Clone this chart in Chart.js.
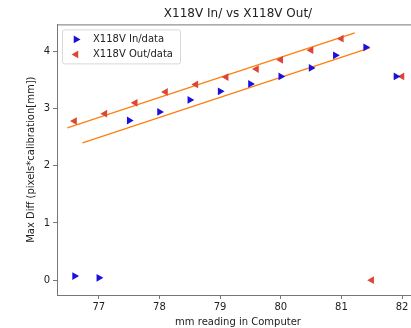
<!DOCTYPE html>
<html>
<head>
<meta charset="utf-8">
<script src="https://cdn.jsdelivr.net/npm/chart.js@4/dist/chart.umd.min.js"></script>
<style>
  html, body { margin: 0; padding: 0; background: #fff; }
  #wrap { width: 411px; height: 328px; overflow: hidden; position: relative; }
  canvas { display: block; }
</style>
</head>
<body>
<div id="wrap"><canvas id="chart" width="430" height="328"></canvas></div>
<script>
// values
const inX = [76.6, 77.0, 77.5, 78.0, 78.5, 79.0, 79.5, 80.0, 80.5, 80.9, 81.4, 81.9];
const inY = [0.07, 0.04, 2.79, 2.94, 3.15, 3.30, 3.43, 3.56, 3.71, 3.93, 4.07, 3.56];
const outX = [76.6, 77.1, 77.6, 78.1, 78.6, 79.1, 79.6, 80.0, 80.5, 81.0, 81.5, 82.0];
const outY = [2.78, 2.91, 3.10, 3.29, 3.42, 3.55, 3.69, 3.85, 4.02, 4.22, 0.0, 3.56];
// fitted lines (end points)
const inFitX = [76.73, 81.47];
const inFitY = [2.40, 4.06];
const outFitX = [76.48, 81.22];
const outFitY = [2.66, 4.32];
const xTicks = [77, 78, 79, 80, 81, 82];
const yTicks = [0, 1, 2, 3, 4];

const blue = '#1a10dc';
const red = '#dc4636';
const orange = '#ff7f0e';
const font = 'DejaVu Sans';

function pts(xs, ys) {
  return xs.map((x, i) => ({x: x, y: ys[i]}));
}

// frame on top/right like matplotlib spines
const spines = {
  id: 'spines',
  afterDraw(chart) {
    const a = chart.chartArea, ctx = chart.ctx;
    ctx.save();
    ctx.strokeStyle = '#777';
    ctx.lineWidth = 1;
    ctx.beginPath();
    ctx.moveTo(a.left, a.top + 0.5);
    ctx.lineTo(a.right, a.top + 0.5);
    ctx.lineTo(a.right, a.bottom);
    ctx.stroke();
    ctx.restore();
  }
};

// legend box inside the axes, upper left
function tri(ctx, x, y, r, dir) {
  ctx.beginPath();
  ctx.moveTo(x + dir * r, y);
  ctx.lineTo(x - dir * r * 0.5, y - r * 0.87);
  ctx.lineTo(x - dir * r * 0.5, y + r * 0.87);
  ctx.closePath();
  ctx.fill();
}
const innerLegend = {
  id: 'innerLegend',
  afterDraw(chart) {
    const a = chart.chartArea, ctx = chart.ctx;
    const x0 = a.left + 5, y0 = a.top + 5, w = 118, h = 34;
    ctx.save();
    ctx.fillStyle = 'rgba(255,255,255,0.85)';
    ctx.strokeStyle = '#d8d8d8';
    ctx.lineWidth = 1;
    ctx.beginPath();
    ctx.roundRect(x0 + 0.5, y0 + 0.5, w, h, 2);
    ctx.fill();
    ctx.stroke();
    const items = [chart.data.datasets[0], chart.data.datasets[1]];
    ctx.font = '10px "' + font + '"';
    ctx.textBaseline = 'middle';
    items.forEach((ds, i) => {
      const y = y0 + 10 + i * 15;
      ctx.fillStyle = ds.backgroundColor;
      tri(ctx, x0 + 14, y, 4.5, i === 0 ? 1 : -1);
      ctx.fillStyle = '#222';
      ctx.fillText(ds.label, x0 + 31, y);
    });
    ctx.restore();
  }
};

new Chart(document.getElementById('chart'), {
  type: 'scatter',
  data: {
    datasets: [
      {
        label: 'X118V In/data',
        data: pts(inX, inY),
        backgroundColor: blue,
        borderColor: blue,
        pointStyle: 'triangle',
        rotation: 90,
        pointRadius: 4.5,
        borderWidth: 0
      },
      {
        label: 'X118V Out/data',
        data: pts(outX, outY),
        backgroundColor: red,
        borderColor: red,
        pointStyle: 'triangle',
        rotation: -90,
        pointRadius: 4.5,
        borderWidth: 0
      },
      {
        label: 'in fit',
        data: pts(inFitX, inFitY),
        showLine: true,
        borderColor: orange,
        borderWidth: 1.3,
        pointRadius: 0
      },
      {
        label: 'out fit',
        data: pts(outFitX, outFitY),
        showLine: true,
        borderColor: orange,
        borderWidth: 1.3,
        pointRadius: 0
      }
    ]
  },
  options: {
    responsive: false,
    animation: false,
    devicePixelRatio: 1,
    layout: { padding: { left: 25, right: 11, top: 0, bottom: 0 } },
    plugins: {
      legend: { display: false },
      tooltip: { enabled: false },
      title: {
        display: true,
        text: 'X118V In/ vs X118V Out/',
        fullSize: false,
        color: '#222',
        font: { family: font, size: 12, weight: 'normal' },
        padding: { top: 7, bottom: 3 }
      }
    },
    scales: {
      x: {
        type: 'linear',
        min: 76.31,
        max: 82.28,
        afterBuildTicks(scale) { scale.ticks = xTicks.map(v => ({value: v})); },
        afterFit(scale) { scale.height = 33; },
        grid: { display: true, drawOnChartArea: false, drawTicks: true, tickLength: 4, color: '#777' },
        border: { display: true, color: '#777', width: 1 },
        ticks: { color: '#222', padding: 2, font: { family: font, size: 10 }, maxRotation: 0 },
        title: {
          display: true,
          text: 'mm reading in Computer',
          color: '#222',
          padding: { top: 0, bottom: 0 },
          font: { family: font, size: 10 }
        }
      },
      y: {
        type: 'linear',
        min: -0.26,
        max: 4.47,
        afterBuildTicks(scale) { scale.ticks = yTicks.map(v => ({value: v})); },
        afterFit(scale) { scale.width = 32; },
        grid: { display: true, drawOnChartArea: false, drawTicks: true, tickLength: 4, color: '#777' },
        border: { display: true, color: '#777', width: 1 },
        ticks: { color: '#222', padding: 3, font: { family: font, size: 10 } },
        title: {
          display: true,
          text: 'Max Diff (pixels*calibration[mm])',
          color: '#222',
          padding: { top: 0, bottom: 4 },
          font: { family: font, size: 10 }
        }
      }
    }
  },
  plugins: [spines, innerLegend]
});
</script>
</body>
</html>
